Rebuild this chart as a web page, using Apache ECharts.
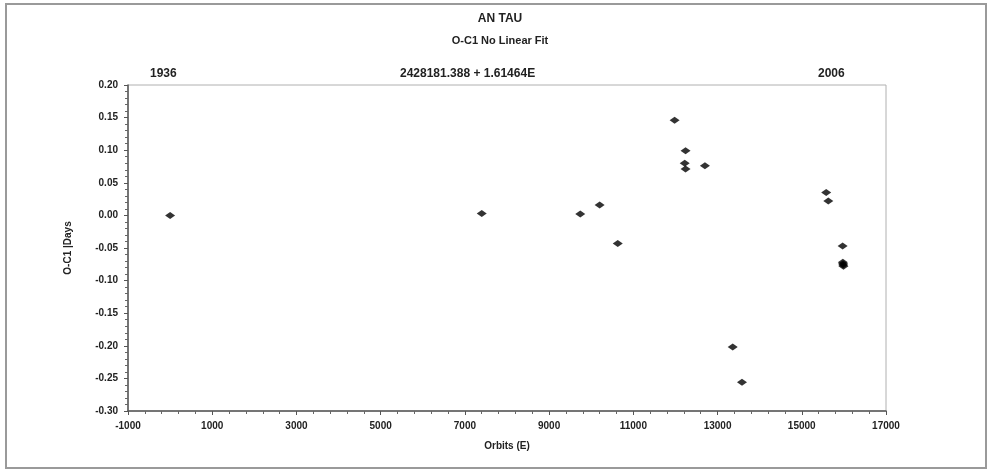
<!DOCTYPE html>
<html>
<head>
<meta charset="utf-8">
<script src="https://cdn.jsdelivr.net/npm/echarts@6/dist/echarts.min.js"></script>
<style>
  html, body { margin: 0; padding: 0; background: #fff; }
  #chart { width: 994px; height: 471px; }
</style>
</head>
<body>
<div id="chart"></div>
<script>
// cycle numbers (E) and O-C1 residuals in days
const orbits = [0, 7400, 9740, 10200, 10630, 11980, 12240, 12220, 12240, 12700,
  13360, 13580, 15580, 15630, 15970, 15975, 15980, 15985, 15990]
const ocDays = [0.000, 0.003, 0.002, 0.016, -0.043, 0.146, 0.099, 0.080, 0.071, 0.076,
  -0.202, -0.256, 0.035, 0.022, -0.047, -0.072, -0.074, -0.076, -0.078]
const xTicks = [-1000, 17000, 2000]
const yTicks = [-0.30, 0.20, 0.05]

const font = 'Liberation Sans, Arial, sans-serif'
const chart = echarts.init(document.getElementById('chart'))

const points = orbits.map((e, i) => [e, ocDays[i]])

chart.setOption({
  animation: false,
  backgroundColor: '#fff',
  title: [
    {
      text: 'AN TAU',
      left: 495, top: 8, textAlign: 'center',
      textStyle: { fontFamily: font, fontSize: 12, fontWeight: 'bold', color: '#222' }
    },
    {
      text: 'O-C1 No Linear Fit',
      left: 495, top: 30, textAlign: 'center',
      textStyle: { fontFamily: font, fontSize: 11, fontWeight: 'bold', color: '#222' }
    }
  ],
  graphic: [
    {
      type: 'rect', silent: true,
      shape: { x: 6, y: 4, width: 980, height: 464 },
      style: { fill: 'none', stroke: '#9a9a9a', lineWidth: 2 }
    },
    {
      type: 'text', left: 150, top: 68,
      style: { text: '1936', font: 'bold 12px ' + font, fill: '#222' }
    },
    {
      type: 'text', left: 400, top: 68,
      style: { text: '2428181.388 + 1.61464E', font: 'bold 12px ' + font, fill: '#222' }
    },
    {
      type: 'text', left: 818, top: 68,
      style: { text: '2006', font: 'bold 12px ' + font, fill: '#222' }
    }
  ],
  grid: {
    left: 128, right: 108, top: 85, bottom: 60,
    show: true, borderColor: '#b0b0b0', borderWidth: 1
  },
  xAxis: {
    type: 'value',
    min: xTicks[0], max: xTicks[1], interval: xTicks[2],
    name: 'Orbits (E)', nameLocation: 'middle', nameGap: 30,
    nameTextStyle: { fontFamily: font, fontSize: 10, fontWeight: 'bold', color: '#222' },
    axisLine: { onZero: false, lineStyle: { color: '#555', width: 1.5 } },
    axisTick: { length: 4, lineStyle: { color: '#555' } },
    minorTick: { show: true, splitNumber: 5, length: 3, lineStyle: { color: '#666' } },
    splitLine: { show: false },
    axisLabel: {
      fontFamily: font, fontSize: 10, fontWeight: 'bold', color: '#222', margin: 10,
      formatter: v => String(v)
    }
  },
  yAxis: {
    type: 'value',
    min: yTicks[0], max: yTicks[1], interval: yTicks[2],
    name: 'O-C1 |Days', nameLocation: 'middle', nameGap: 55,
    nameTextStyle: { fontFamily: font, fontSize: 10, fontWeight: 'bold', color: '#222' },
    axisLine: { onZero: false, lineStyle: { color: '#555', width: 1.5 } },
    axisTick: { length: 4, lineStyle: { color: '#555' } },
    minorTick: { show: true, splitNumber: 5, length: 3, lineStyle: { color: '#666' } },
    splitLine: { show: false },
    axisLabel: {
      fontFamily: font, fontSize: 10, fontWeight: 'bold', color: '#222', margin: 10,
      formatter: v => v.toFixed(2)
    }
  },
  series: [
    {
      type: 'scatter',
      data: points,
      symbol: 'diamond',
      symbolSize: [10, 7],
      itemStyle: { color: '#000' }
    }
  ]
})
</script>
</body>
</html>
